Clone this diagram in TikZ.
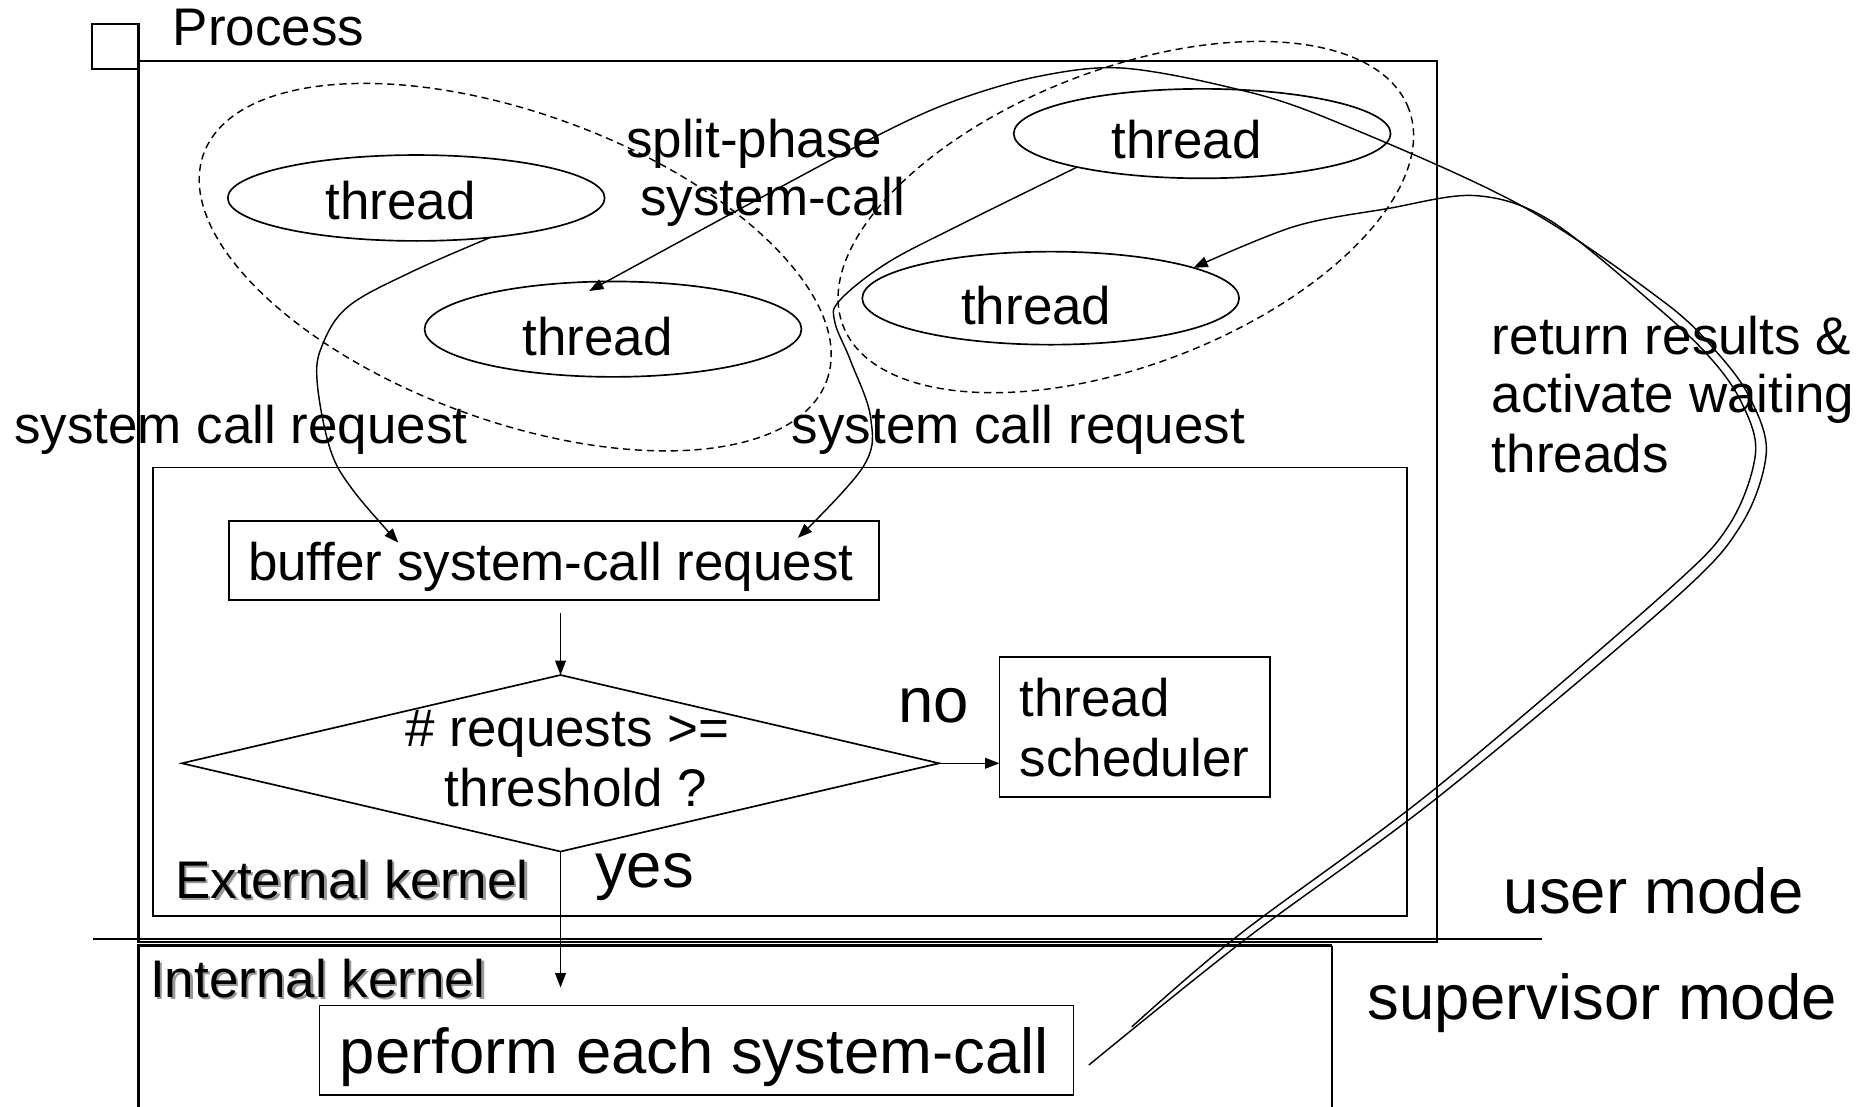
\documentclass[tikz,border=0pt]{standalone}
\usepackage{fontspec}
\setmainfont{Liberation Sans}
\usetikzlibrary{arrows.meta,shapes.geometric,calc}
\begin{document}
\begin{tikzpicture}[x=0.5pt,y=-0.5pt,
  every node/.style={inner sep=0pt,outer sep=0pt},
  lbl/.style={anchor=base west,font=\fontsize{22.2pt}{25pt}\selectfont},
  biglbl/.style={anchor=base west,font=\fontsize{26.6pt}{32pt}\selectfont},
  shd/.style={lbl,text=black!40},
  thr/.style={draw,ellipse,line width=0.7pt,minimum width=158pt},
  grp/.style={draw,ellipse,dash pattern=on 3pt off 2pt,line width=0.6pt},
  boxn/.style={draw,rectangle,line width=0.7pt},
  conn/.style={line width=0.6pt},
  tip/.style={-{Triangle[length=6pt,width=4.5pt]}},
]
\useasboundingbox (0,0) rectangle (1568,928);
% frames
\draw[line width=1pt] (77,20) rectangle (116,58);
\draw[line width=1.1pt] (116,51) rectangle (1205,790);
\draw[line width=0.8pt] (128,392) rectangle (1180,768);
\draw[line width=0.8pt] (78,787) -- (1293,787);
\draw[line width=1.3pt] (116,928) -- (116,793) -- (1117,793);
\draw[line width=0.8pt] (1117,793) -- (1117,928);
% threads
\node[thr,minimum height=36pt] (t1) at (349,166) {};
\node[thr,minimum height=40pt] (t2) at (514,276) {};
\node[thr,minimum height=37.5pt] (t3) at (1008,112) {};
\node[thr,minimum height=39pt] (t4) at (881,250) {};
\node[lbl] (t1l) at (273,184) {thread};
\node[lbl] (t2l) at (438,298) {thread};
\node[lbl] (t3l) at (932,133) {thread};
\node[lbl] (t4l) at (806,272) {thread};
% groups
\node[grp,minimum width=278pt,minimum height=129pt,rotate=-20] (g1) at (432,224) {};
\node[grp,minimum width=254pt,minimum height=124pt,rotate=21] (g2) at (944,182) {};
% boxes
\node[boxn,minimum width=272.5pt,minimum height=33pt] (buf) at (464.5,470) {};
\node[lbl] (bufl) at (208,487) {buffer system-call request};
\node[draw,diamond,line width=0.7pt,minimum width=317.5pt,minimum height=74pt] (dia) at (470,640) {};
\node[lbl] (dial1) at (340,626) {\# requests >=};
\node[lbl] (dial2) at (373,676) {threshold ?};
\node[boxn,minimum width=113.5pt,minimum height=58.5pt] (sch) at (951.5,609.5) {};
\node[lbl] (schl1) at (855,601) {thread};
\node[lbl] (schl2) at (855,651) {scheduler};
\node[boxn,minimum width=316pt,minimum height=37.5pt] (perf) at (584,880.5) {};
\node[biglbl] (perfl) at (285,900) {perform each system-call};
% labels
\node[lbl] (proc) at (145,38) {Process};
\node[lbl] (sp1) at (525,132) {split-phase};
\node[lbl] (sp2) at (537,181) {system-call};
\node[lbl] (scr1) at (12,372) {system call request};
\node[lbl] (scr2) at (664,372) {system call request};
\node[lbl] (ret1) at (1251,297) {return results \&};
\node[lbl] (ret2) at (1251,346) {activate waiting};
\node[lbl] (ret3) at (1251,396) {threads};
\node[biglbl] (no) at (753,606) {no};
\node[biglbl] (yes) at (499,744) {yes};
\node[shd] (extS) at (149,755) {External kernel};
\node[lbl] (ext) at (147,753) {External kernel};
\node[shd] (intS) at (128,838) {Internal kernel};
\node[lbl] (int) at (126,836) {Internal kernel};
\node[biglbl] (um) at (1261,766) {user mode};
\node[biglbl] (sm) at (1147,855) {supervisor mode};
% connectors
\coordinate (ra) at (913,893);
\coordinate (rb) at (949,861);
\coordinate (ik) at (470,828);
\coordinate (bufinL) at ($(buf.north west)+(142,18)$);
\coordinate (bufinR) at ($(buf.north east)+(-68,14)$);
\coordinate (t2in) at ([xshift=-10pt,yshift=-4pt]t2.north);
\draw[conn,tip] ($(buf.south -| dia.north)+(0,11)$) -- (dia.north);
\draw[conn,tip] (dia.east) -- (dia.east -| sch.west);
\draw[conn,tip] (dia.south) -- (ik);
\draw[conn,tip] plot[smooth,tension=0.6] coordinates {(t1.-28) (345,228) (292,257) (270,290) (266,321) (277,377) (296,411) (bufinL)};
\draw[conn,tip] plot[smooth,tension=0.6] coordinates {(t3.195) (802,190) (743,221) (704,252) (700,270) (713,302) (730,350) (724,391) (bufinR)};
\draw[conn,tip] plot[smooth,tension=0.55] coordinates {(ra) (1045,787) (1205,669) (1403,503) (1460,440) (1481,380) (1468,335) (1441,297) (1395,253) (1273,171) (1110,98) (1030,73) (940,57) (871,64) (802,84) (739,112) (619,176) (t2in)};
\draw[conn,tip] plot[smooth,tension=0.55] coordinates {(rb) (1040,783) (1200,664) (1395,498) (1450,440) (1472,380) (1460,337) (1434,300) (1390,258) (1300,185) (1237,164) (1163,175) (1085,190) (t4.12)};
\end{tikzpicture}
\end{document}
